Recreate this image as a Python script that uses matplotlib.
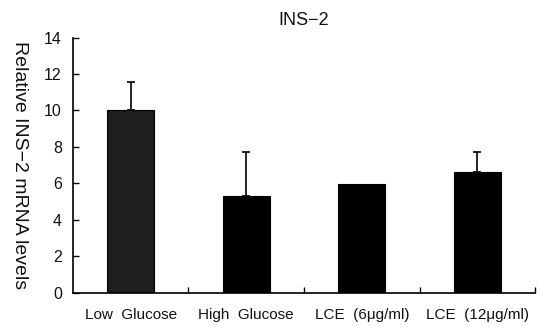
import matplotlib
matplotlib.use("Agg")
import matplotlib.pyplot as plt
import numpy as np

categories = ["Low  Glucose", "High  Glucose", "LCE  (6μg/ml)", "LCE  (12μg/ml)"]
values = [10.05, 5.3, 5.95, 6.6]
errors = [1.5, 2.4, 0.0, 1.1]
colors = ["#1e1e1e", "#000000", "#000000", "#000000"]

plt.rcParams['font.family'] = ['Liberation Sans', 'DejaVu Sans']
fig = plt.figure(figsize=(5.4, 3.27), dpi=100)
ax = fig.add_axes([0.135, 0.105, 0.856, 0.78])

x = np.arange(len(categories))
vals = np.array(values)
errs = np.array(errors)
ax.bar(x, vals, width=0.41, color=colors, edgecolor="#000000", linewidth=0.8, zorder=2)
m = errs > 0
ax.errorbar(x[m], vals[m], yerr=[np.zeros(m.sum()), errs[m]], fmt='none',
            ecolor="black", elinewidth=1.2, capsize=3, capthick=1.2, zorder=3)

ax.set_xlim(-0.5, len(categories) - 0.5)
ax.set_ylim(0, 14)
ax.set_yticks(np.arange(0, 15, 2))
ax.set_xticks(x)
ax.set_xticklabels(categories, fontsize=11, color="#111111")
ax.tick_params(axis='x', length=0, pad=11)
ax.set_xticks(np.arange(0.5, len(categories), 1), minor=True)
ax.tick_params(axis='x', which='minor', direction='in', length=4, width=1)
ax.tick_params(axis='y', direction='in', length=4, width=1, labelsize=11.5, pad=8, labelcolor="#111111")
for s in ['top', 'right']:
    ax.spines[s].set_visible(False)
for s in ['left', 'bottom']:
    ax.spines[s].set_linewidth(1.2)

ax.set_title("INS−2", fontsize=13, pad=9, color="#111111")
ax.set_ylabel("Relative INS−2 mRNA levels", fontsize=14, rotation=270, color="#111111",
              va='center', ha='center')
ax.yaxis.set_label_coords(-0.115, 0.5)

fig.savefig("out.png", dpi=100)
